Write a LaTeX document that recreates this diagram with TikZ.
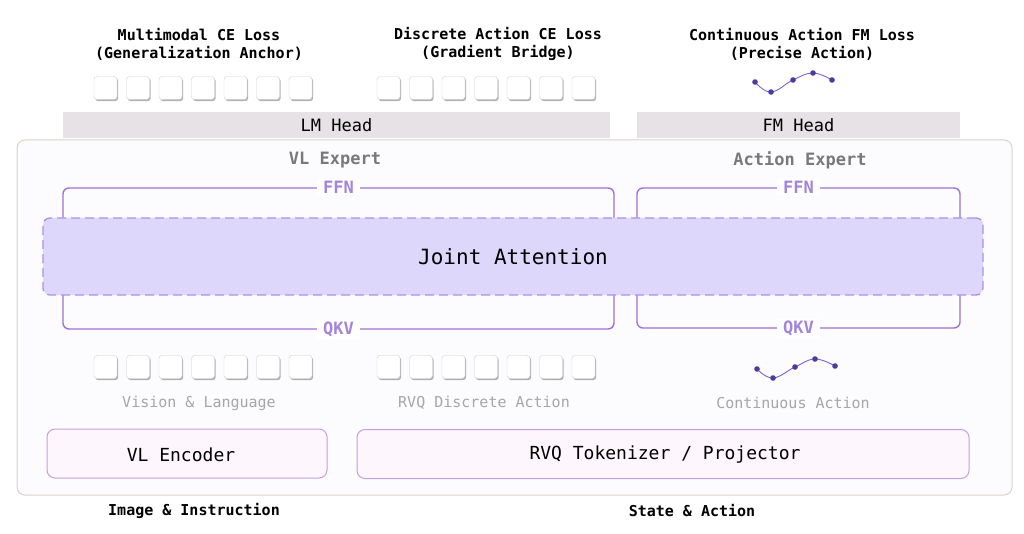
\documentclass[tikz,border=0pt]{standalone}
\usepackage{fontspec}
\setmainfont{DejaVu Sans Mono}
\usetikzlibrary{positioning,shadows}

\definecolor{exline}{HTML}{9F72D4}
\definecolor{exlabel}{HTML}{A484DA}
\definecolor{jointfill}{HTML}{DDD8FB}
\definecolor{jointline}{HTML}{AD90E6}
\definecolor{headfill}{HTML}{E7E2E5}
\definecolor{outerline}{HTML}{D8D3C6}
\definecolor{outerfill}{HTML}{FCFBFE}
\definecolor{encfill}{HTML}{FDF6FC}
\definecolor{encline}{HTML}{C4A0D8}
\definecolor{wave}{HTML}{7D62CC}
\definecolor{wavedot}{HTML}{4B3C9C}
\definecolor{tokline}{HTML}{D0D0D0}

\begin{document}
\begin{tikzpicture}[x=1pt, y=-1pt,
    loss/.style={font=\fontsize{15}{18}\selectfont\bfseries, align=center},
    head/.style={fill=headfill, minimum height=26pt, inner sep=0pt, font=\fontsize{17}{20}\selectfont},
    expert/.style={draw=exline, line width=1.4pt, rounded corners=6pt, inner sep=0pt},
    exname/.style={text=gray!95!black, font=\fontsize{17}{20}\selectfont\bfseries},
    sublabel/.style={fill=white, text=exlabel, inner xsep=6pt, inner ysep=2pt, font=\fontsize{17}{20}\selectfont\bfseries},
    token/.style={draw=tokline, fill=white, rounded corners=3pt, minimum width=23pt, minimum height=23pt, inner sep=0pt,
        drop shadow={shadow xshift=1.2pt, shadow yshift=-1.6pt, fill=black, opacity=0.3}},
    stream/.style={text=gray!70, font=\fontsize{15}{18}\selectfont},
    encoder/.style={draw=encline, line width=1pt, fill=encfill, rounded corners=8pt, minimum height=49pt, inner sep=0pt, font=\fontsize{18}{21}\selectfont},
    source/.style={font=\fontsize{15}{18}\selectfont\bfseries},
]
    \useasboundingbox (0,0) rectangle (1024,534);

    % Loss labels
    \node[loss] (lossvl) at (199,44) {Multimodal CE Loss\\(Generalization Anchor)};
    \node[loss] (lossrvq) at (498,44) {Discrete Action CE Loss\\(Gradient Bridge)};
    \node[loss] (lossfm) at (802,44) {Continuous Action FM Loss\\(Precise Action)};

    % Output tokens
    \foreach \i in {0,...,6} {
        \node[token] (outvl-\i) at (105.5+32.5*\i,88) {};
        \node[token] (outrvq-\i) at (388.5+32.5*\i,88) {};
    }
    \draw[wave, line width=0.9pt] plot[smooth, tension=0.7] coordinates {(755,82) (771,92) (793,80) (813,73) (832,80)};
    \foreach \p in {(755,82),(771,92),(793,80),(813,73),(832,80)}
        \fill[wavedot] \p circle (2.8pt);

    % Heads
    \node[head, minimum width=547pt] (lmhead) at (336.5,125) {LM Head};
    \node[head, minimum width=323pt] (fmhead) at (798.5,125) {FM Head};

    % Backbone
    \node[draw=outerline, fill=outerfill, line width=1pt, rounded corners=8pt, minimum width=995pt, minimum height=355pt, inner sep=0pt] (backbone) at (514.5,317.5) {};

    \node[exname] (vlname) at (335,160) {VL Expert};
    \node[exname] (acname) at (800,160) {Action Expert};

    \node[expert, minimum width=551pt, minimum height=141pt] (vlexp) at (338.5,258.5) {};
    \node[expert, minimum width=323pt, minimum height=140pt] (acexp) at (798.5,258) {};

    \node[draw=jointline, dashed, dash pattern=on 9pt off 5pt, line width=1.3pt, fill=jointfill, rounded corners=7pt,
        minimum width=940pt, minimum height=77pt, inner sep=0pt,
        font=\fontsize{21}{24}\selectfont] (joint) at (513,256.5) {Joint Attention};

    \node[sublabel] (vlffn) at (vlexp.north) {FFN};
    \node[sublabel] (vlqkv) at (vlexp.south) {QKV};
    \node[sublabel] (acffn) at (acexp.north) {FFN};
    \node[sublabel] (acqkv) at (acexp.south) {QKV};

    % Input tokens
    \foreach \i in {0,...,6} {
        \node[token] (invl-\i) at (105.5+32.5*\i,367) {};
        \node[token] (inrvq-\i) at (388.5+32.5*\i,367) {};
    }
    \draw[wave, line width=0.9pt] plot[smooth, tension=0.7] coordinates {(757,369) (773,378) (795,367) (815,359) (835,366)};
    \foreach \p in {(757,369),(773,378),(795,367),(815,359),(835,366)}
        \fill[wavedot] \p circle (2.8pt);

    \node[stream] (vlstream) at (199,403) {Vision \& Language};
    \node[stream] (rvqstream) at (484,403) {RVQ Discrete Action};
    \node[stream] (acstream) at (793,403) {Continuous Action};

    % Encoders
    \node[encoder, minimum width=280pt] (vlenc) at (187,453.5) {};
    \node (vlenctext) at (181,455) {\fontsize{18}{21}\selectfont VL Encoder};
    \node[encoder, minimum width=612pt] (rvqenc) at (663,454) {};
    \node (rvqenctext) at (665,455) {\fontsize{18}{21}\selectfont RVQ Tokenizer / Projector};

    % Sources
    \node[source] (imgsrc) at (194,511) {Image \& Instruction};
    \node[source] (statesrc) at (692,511) {State \& Action};
\end{tikzpicture}
\end{document}
